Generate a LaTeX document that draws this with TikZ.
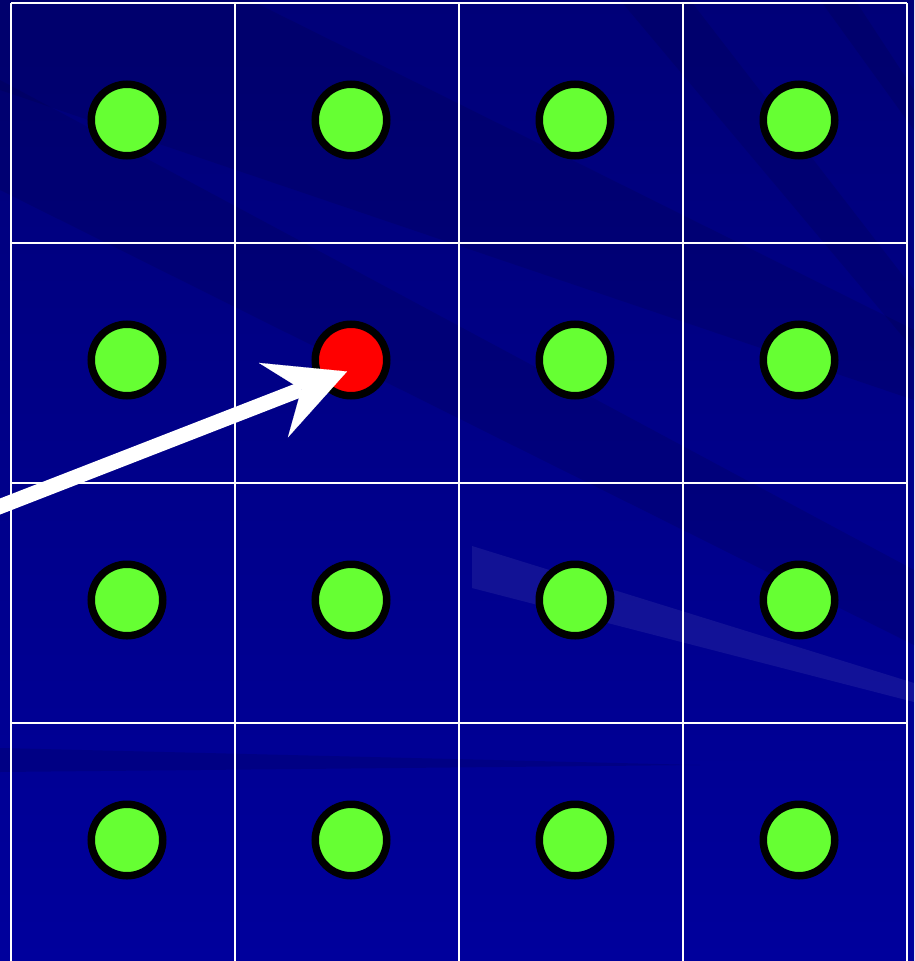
\documentclass[tikz,border=0pt]{standalone}
\usetikzlibrary{arrows.meta}
\definecolor{bgtop}{RGB}{0,0,120}
\definecolor{bgbot}{RGB}{0,0,156}
\definecolor{dotgreen}{RGB}{102,255,51}
\definecolor{dotred}{RGB}{255,0,0}
\definecolor{streakdark}{RGB}{0,0,60}
\begin{document}
\begin{tikzpicture}[x=1pt,y=-1pt,
  dot/.style={circle, draw=black, line width=7.5pt, minimum size=71.5pt, inner sep=0pt, fill=dotgreen},
  hot/.style={dot, fill=dotred},
  gridline/.style={draw=white, line width=2pt},
  darkstreak/.style={fill=streakdark, opacity=0.18},
  lightstreak/.style={fill=white, opacity=0.07},
  pointer/.style={draw=white, line width=15pt, -{Stealth[length=79pt, width=80pt, inset=30pt, line width=0.1pt]}}]
\useasboundingbox (0,0) rectangle (914,961);
% background
\fill[top color=bgtop, bottom color=bgbot] (0,0) rectangle (914,961);
\fill[darkstreak] (0,80) -- (914,570) -- (914,645) -- (0,190) -- cycle;
\fill[darkstreak] (0,0) -- (250,0) -- (914,330) -- (914,400) -- (0,90) -- cycle;
\fill[darkstreak] (620,0) -- (690,0) -- (914,290) -- (914,350) -- cycle;
\fill[darkstreak] (820,0) -- (855,0) -- (914,90) -- (914,130) -- cycle;
\fill[darkstreak] (0,748) -- (700,765) -- (0,772) -- cycle;
\fill[lightstreak] (472,546) -- (914,683) -- (914,702) -- (472,588) -- cycle;
% grid
\foreach \x in {11,235,459,683,907} \draw[gridline] (\x,3) -- (\x,961);
\foreach \y in {3,243,483,723} \draw[gridline] (11,\y) -- (907,\y);
% dots
\foreach \i/\x in {1/127,2/351,3/575,4/799}{
  \node[dot] (d1\i) at (\x,120) {};
  \node[dot] (d3\i) at (\x,600) {};
  \node[dot] (d4\i) at (\x,840) {};
}
\node[dot] (d21) at (127,360) {};
\node[hot] (d22) at (351,360) {};
\node[dot] (d23) at (575,360) {};
\node[dot] (d24) at (799,360) {};
% arrow
\coordinate (start) at (-20,514.3);
\coordinate (tip) at (347,371.5);
\draw[pointer] (start) -- (tip);
\end{tikzpicture}
\end{document}
